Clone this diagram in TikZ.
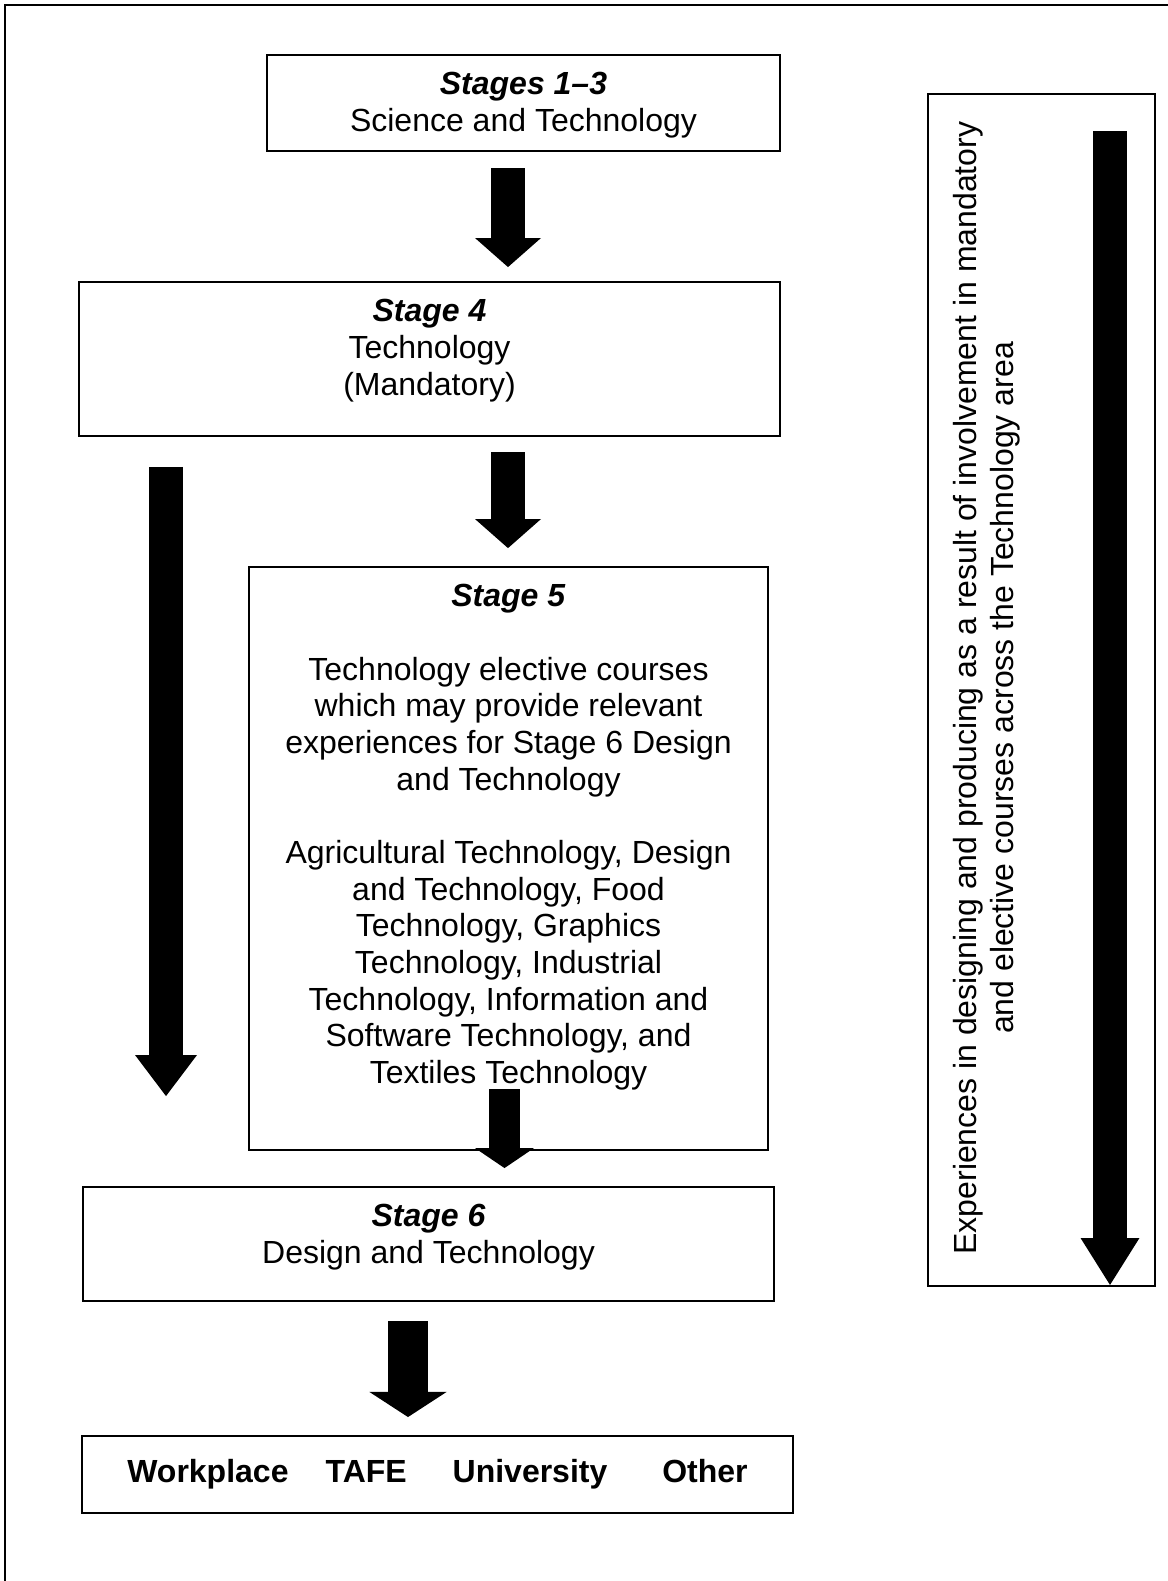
\documentclass[tikz,border=0pt]{standalone}
\usepackage{fontspec}
\setmainfont{Liberation Sans}
\usetikzlibrary{arrows.meta,positioning}

\tikzset{
  stagebox/.style={draw, line width=0.75pt, inner sep=0pt, outer sep=0pt},
  stagetext/.style={align=center, inner sep=0pt, outer sep=0pt},
  fatarrow/.style n args={3}{line width=#1, -{Triangle[width=#2, length=#3, line width=0pt]}},
}

\begin{document}
\begin{tikzpicture}[x=0.375pt, y=-0.375pt, font=\fontsize{12}{13.75}\selectfont]
\useasboundingbox (0,0) rectangle (1168,1581);

% frame (cut off right and bottom)
\draw[line width=0.6pt] (5,1581) -- (5,5) -- (1168,5);

% stage boxes
\node[stagebox, minimum width=192.4pt, minimum height=36pt] (s13) at (523.5,103) {};
\node[stagetext, below=6.5pt of s13.north] (s13t) {\textbf{\textit{Stages 1–3}}\\Science and Technology};

\node[stagebox, minimum width=262.9pt, minimum height=57.75pt] (s4) at (429.5,359) {};
\node[stagetext, below=6.5pt of s4.north] (s4t) {\textbf{\textit{Stage 4}}\\Technology\\(Mandatory)};

\node[stagebox, minimum width=194.6pt, minimum height=218.6pt] (s5) at (508.5,858.5) {};
\node[stagetext, below=6.5pt of s5.north] (s5t) {\textbf{\textit{Stage 5}}\\[13.75pt]
  Technology elective courses\\which may provide relevant\\experiences for Stage 6 Design\\and Technology\\[13.75pt]
  Agricultural Technology, Design\\and Technology, Food\\Technology, Graphics\\Technology, Industrial\\Technology, Information and\\Software Technology, and\\Textiles Technology};

\node[stagebox, minimum width=259.1pt, minimum height=42.75pt] (s6) at (428.5,1244) {};
\node[stagetext, below=6.5pt of s6.north] (s6t) {\textbf{\textit{Stage 6}}\\Design and Technology};

\node[stagebox, minimum width=266.6pt, minimum height=28.9pt, font=\fontsize{12}{13.75}\selectfont\bfseries] (dest) at (437.5,1474.5)
  {Workplace\hspace{13.9pt}TAFE\hspace{17.2pt}University\hspace{20.6pt}Other};

% side box
\node[stagebox, minimum width=85.1pt, minimum height=447pt] (exp) at (1041.5,690) {};
\node[stagetext, rotate=90] (expt) at (987,688)
  {Experiences in designing and producing as a result of involvement in mandatory\\and elective courses across the Technology area};

% arrow columns
\coordinate (midx) at (508,0);
\coordinate (s5out) at (504.5,1089);
\coordinate (s6x) at (408,0);
\coordinate (leftx) at (166,0);
\coordinate (rightx) at (1110,0);

\draw[fatarrow={12.75pt}{24.75pt}{10.9pt}, shorten <=6.4pt, shorten >=5.6pt] (s13.south -| midx) -- (s4.north -| midx);
\draw[fatarrow={12.75pt}{24.75pt}{10.9pt}, shorten <=6pt, shorten >=7.1pt] (s4.south -| midx) -- (s5.north -| midx);
\draw[fatarrow={12.75pt}{23.25pt}{15.4pt}, shorten <=11.6pt, shorten >=34.1pt] (s4.south -| leftx) -- (s6.north -| leftx);
\draw[fatarrow={11.6pt}{22.1pt}{7.5pt}, shorten >=7.1pt] (s5out) -- (s6.north -| s5out);
\draw[fatarrow={15pt}{28.9pt}{9.4pt}, shorten <=7.5pt, shorten >=7.1pt] (s6.south -| s6x) -- (dest.north -| s6x);
\draw[fatarrow={12.75pt}{22.1pt}{17.6pt}, shorten <=13.9pt, shorten >=0.4pt] (exp.north -| rightx) -- (exp.south -| rightx);
\end{tikzpicture}
\end{document}
